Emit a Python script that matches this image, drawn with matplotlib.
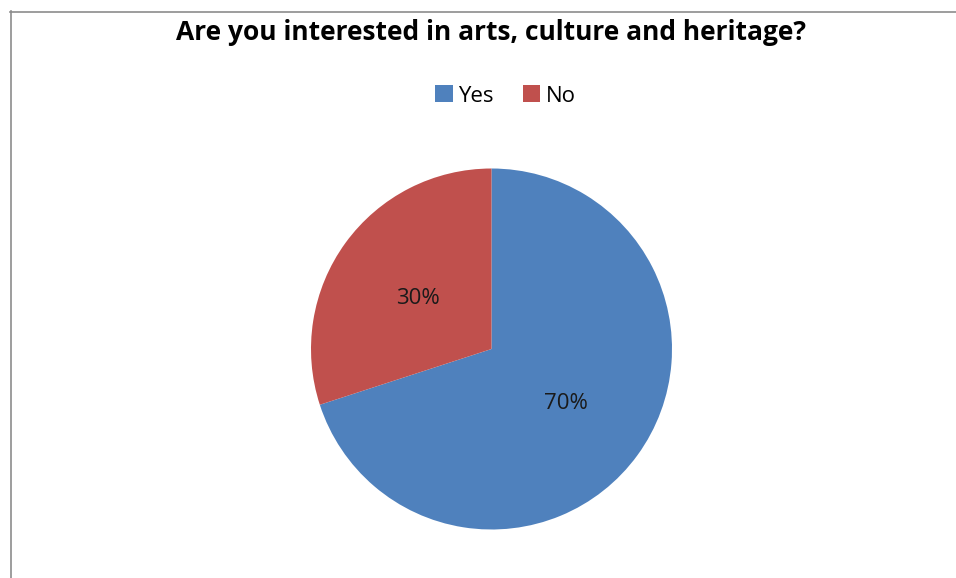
import matplotlib.pyplot as plt
from matplotlib.lines import Line2D
from matplotlib.patches import Patch

title = "Are you interested in arts, culture and heritage?"
answers = ["Yes", "No"]
shares = [70, 30]
colors = ["#4F81BD", "#C0504D"]

plt.rcParams['font.family'] = ['Open Sans', 'DejaVu Sans']

W, H = 956, 578
fig = plt.figure(figsize=(W / 100, H / 100), dpi=100)

# pie axes placed in pixel terms: centre (491.5, 349), radius 180.5
cx, cy, r = 491.5, 349, 180.5
ax = fig.add_axes([(cx - r) / W, (H - cy - r) / H, 2 * r / W, 2 * r / H])
wedges, texts, autotexts = ax.pie(
    shares, colors=colors, startangle=90, counterclock=False,
    autopct=lambda p: f"{p:.0f}%", pctdistance=0.51, radius=1,
    textprops=dict(fontsize=16, color="#1a1a1a"))
ax.set_xlim(-1, 1)
ax.set_ylim(-1, 1)
ax.set_aspect('equal')
ax.axis('off')

# smaller slice label sits up-left of centre, mirroring the big one
autotexts[1].set_position((-0.41, 0.28))

fig.text(491 / W, 1 - 32 / H, title, ha='center', va='center',
         fontsize=19, fontweight='bold', color='black')

handles = [Patch(facecolor=c, edgecolor='none') for c in colors]
fig.legend(handles, answers, loc='center', bbox_to_anchor=(505.5 / W, 1 - 96 / H),
           ncol=2, frameon=False, fontsize=16, handlelength=0.8, handleheight=0.8,
           handletextpad=0.25, columnspacing=1.3)

# chart area border (left and top edges visible)
border = '#8c8c8c'
fig.add_artist(Line2D([10.5 / W, 10.5 / W], [0, 1 - 11 / H], color=border, lw=1.2,
                      transform=fig.transFigure))
fig.add_artist(Line2D([10 / W, 1], [1 - 11.5 / H, 1 - 11.5 / H], color=border, lw=1.2,
                      transform=fig.transFigure))

fig.savefig("out.png", dpi=100, facecolor='white')
